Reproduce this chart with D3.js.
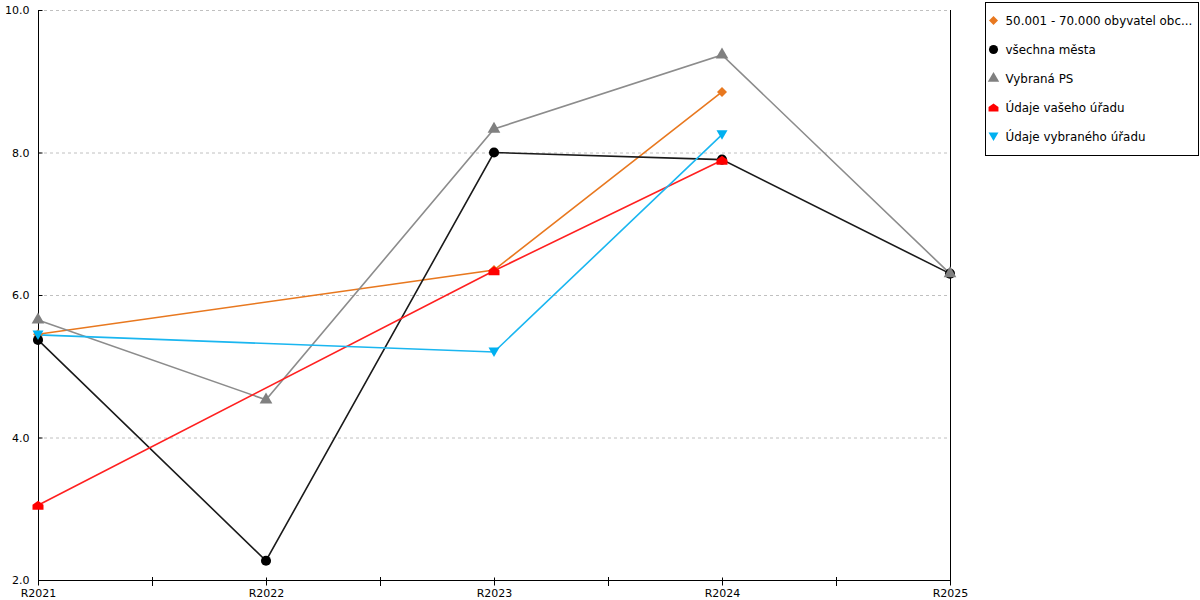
<!DOCTYPE html>
<html>
<head>
<meta charset="utf-8">
<script src="https://cdn.jsdelivr.net/npm/d3@7"></script>
<style>
  body { margin: 0; background: #fff; }
  text { font-family: "DejaVu Sans", Verdana, sans-serif; }
</style>
</head>
<body>
<div id="drawing"></div>
<script>
// categories and values (null = no value that year)
var years = ["R2021", "R2022", "R2023", "R2024", "R2025"];
var yTicks = [2, 4, 6, 8, 10];

var seriesNames = ["50.001 - 70.000 obyvatel obc...", "všechna města", "Vybraná PS", "Údaje vašeho úřadu", "Údaje vybraného úřadu"];
var orangeValues = [5.45, null, 6.35, 8.85, null];
var blackValues  = [5.37, 2.27, 8.0, 7.9, 6.3];
var grayValues   = [5.65, 4.53, 8.33, 9.37, 6.3];
var redValues    = [3.05, null, 6.34, 7.89, null];
var cyanValues   = [5.44, null, 5.2, 8.25, null];

var width = 1200;
var height = 600;
var margin = {top: 10, right: 250, bottom: 20, left: 38};

var colors = ["#e8781f", "#000000", "#808080", "#ff0000", "#00b0f0"];
var lineColors = ["#e8781f", "#1a1a1a", "#8c8c8c", "#ff2020", "#1ab6f0"];

var diamond = "M0,-5L5,0L0,5L-5,0Z";
var house = "M-5.5,4.5L5.5,4.5L5.5,-0.5L0,-4.5L-5.5,-0.5Z";
var triDown = "M-5.5,-4.5L5.5,-4.5L0,5Z";
var shapes = [
  diamond,
  d3.symbol(d3.symbolCircle, 80)(),
  d3.symbol(d3.symbolTriangle, 70)(),
  house,
  triDown
];

var allValues = [orangeValues, blackValues, grayValues, redValues, cyanValues];

var svg = d3.select("#drawing").append("svg")
  .attr("width", width)
  .attr("height", height);

var xScale = d3.scalePoint()
  .domain(years)
  .range([margin.left, width - margin.right]);

var yScale = d3.scaleLinear()
  .domain([2, 10])
  .range([height - margin.bottom, margin.top]);

// dashed grid
svg.append("g")
  .selectAll("line")
  .data(yTicks.filter(function(d) { return d > 2; }))
  .enter().append("line")
    .attr("x1", margin.left)
    .attr("x2", width - margin.right)
    .attr("y1", function(d) { return yScale(d) + 0.5; })
    .attr("y2", function(d) { return yScale(d) + 0.5; })
    .attr("stroke", "#c0c0c0")
    .attr("stroke-dasharray", "3,3");

// right border
svg.append("line")
  .attr("x1", width - margin.right + 0.5)
  .attr("x2", width - margin.right + 0.5)
  .attr("y1", margin.top)
  .attr("y2", height - margin.bottom + 5)
  .attr("stroke", "#000");

// y axis
var yAxis = svg.append("g")
  .attr("transform", "translate(" + (margin.left + 0.5) + ",0)")
  .call(d3.axisLeft(yScale).tickValues(yTicks).tickFormat(d3.format(".1f")).tickSize(5));
yAxis.select(".domain").attr("d", "M0," + margin.top + "V" + (height - margin.bottom));
yAxis.selectAll(".tick line").attr("x2", 4);
yAxis.selectAll(".tick text").attr("x", -9).style("font-size", "11px").attr("fill", "#000");

// x axis with minor ticks between categories
var xAxis = svg.append("g")
  .attr("transform", "translate(0," + (height - margin.bottom + 0.5) + ")")
  .call(d3.axisBottom(xScale).tickSize(5).tickPadding(4));
xAxis.select(".domain").attr("d", "M" + margin.left + ",0H" + (width - margin.right));
xAxis.selectAll(".tick line").attr("y1", -3);
xAxis.selectAll(".tick text").style("font-size", "11px").attr("fill", "#000");

var step = xScale.step();
svg.append("g")
  .selectAll("line")
  .data(years.slice(0, -1))
  .enter().append("line")
    .attr("x1", function(d) { return xScale(d) + step / 2 + 0.5; })
    .attr("x2", function(d) { return xScale(d) + step / 2 + 0.5; })
    .attr("y1", height - margin.bottom - 3)
    .attr("y2", height - margin.bottom + 6)
    .attr("stroke", "#000");

// lines and markers
var lineGen = d3.line()
  .x(function(d) { return xScale(d.year); })
  .y(function(d) { return yScale(d.value); });

function points(vals) {
  return years.map(function(y, j) { return {year: y, value: vals[j]}; })
    .filter(function(d) { return d.value !== null; });
}

allValues.forEach(function(vals, i) {
  svg.append("path")
    .attr("d", lineGen(points(vals)))
    .attr("fill", "none")
    .attr("stroke", lineColors[i])
    .attr("stroke-width", 1.6);
});

allValues.forEach(function(vals, i) {
  svg.append("g")
    .selectAll("path")
    .data(points(vals))
    .enter().append("path")
      .attr("d", shapes[i])
      .attr("transform", function(d) { return "translate(" + xScale(d.year) + "," + yScale(d.value) + ")"; })
      .attr("fill", colors[i]);
});

// legend
var legend = svg.append("g").attr("transform", "translate(985.5,2.5)");
legend.append("rect")
  .attr("width", 213)
  .attr("height", 153)
  .attr("fill", "#fff")
  .attr("stroke", "#000");

var item = legend.selectAll(".item")
  .data(seriesNames)
  .enter().append("g")
    .attr("class", "item")
    .attr("transform", function(d, i) { return "translate(0," + (18 + i * 29) + ")"; });

item.append("path")
  .attr("d", function(d, i) { return shapes[i]; })
  .attr("transform", "translate(8,0) scale(0.9)")
  .attr("fill", function(d, i) { return colors[i]; });

item.append("text")
  .attr("x", 20)
  .attr("dy", "0.35em")
  .style("font-size", "11.9px")
  .text(function(d) { return d; });
</script>
</body>
</html>
